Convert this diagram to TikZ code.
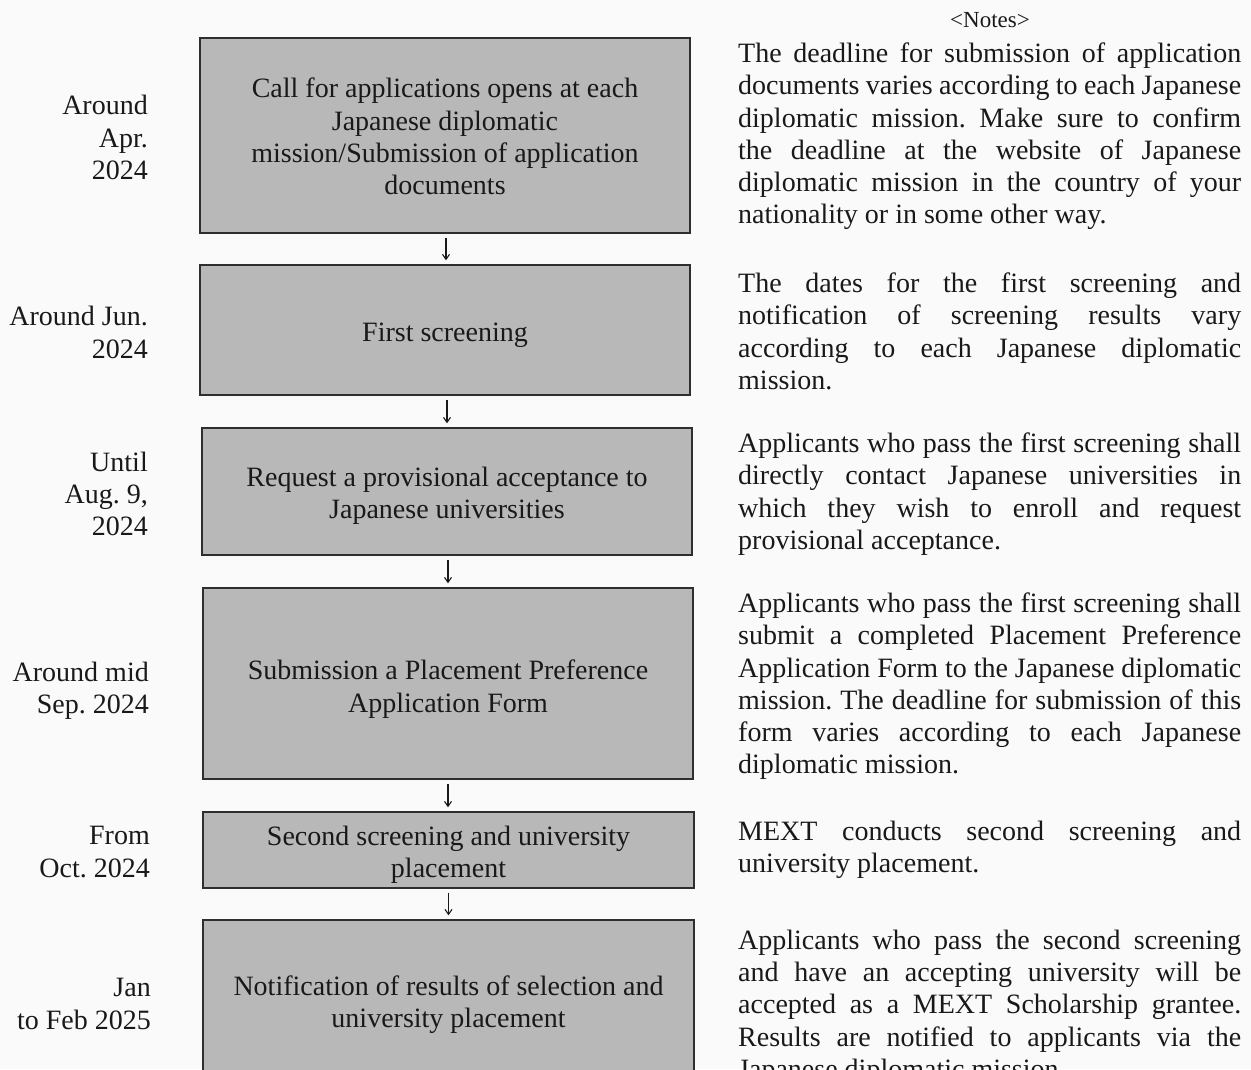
\documentclass[tikz,border=0pt]{standalone}
\usepackage{fontspec}
\setmainfont{Liberation Serif}
\usetikzlibrary{arrows.meta}
\definecolor{boxfill}{RGB}{184,184,184}
\definecolor{boxline}{RGB}{45,45,50}
\definecolor{paper}{RGB}{250,250,250}
\definecolor{ink}{RGB}{25,25,25}
\newcommand\bodyfont{\fontsize{28}{32.3}\selectfont\frenchspacing}
\newcommand\jline[1]{\makebox[503pt][s]{#1}}
\tikzset{
  stepbox/.style={draw=boxline, line width=1.4pt, fill=boxfill, inner sep=0pt,
    minimum width=490pt},
  boxtext/.style={align=center, inner sep=0pt, text=ink, font=\bodyfont},
  datelabel/.style={anchor=east, align=right, inner sep=0pt, text=ink, font=\bodyfont},
  notetext/.style={anchor=north west, align=left, inner sep=0pt, text=ink, font=\bodyfont},
  flowarrow/.style={draw=ink, line width=1.1pt, -{Straight Barb[length=5pt,width=7pt]},
    shorten <=4pt, shorten >=4pt}
}
\begin{document}
\begin{tikzpicture}[x=1pt,y=-1pt]
\useasboundingbox (0,0) rectangle (1251,1069);
\clip (0,0) rectangle (1251,1069);
\fill[paper] (0,0) rectangle (1251,1069);

% boxes
\node[stepbox, minimum height=195pt] (b1) at (445,135.5) {};
\node[stepbox, minimum height=130pt] (b2) at (445,330) {};
\node[stepbox, minimum height=127pt] (b3) at (447,491.5) {};
\node[stepbox, minimum height=191pt] (b4) at (448,683.5) {};
\node[stepbox, minimum height=76pt, minimum width=491pt] (b5) at (448.5,850) {};
\node[stepbox, minimum height=164pt, minimum width=491pt] (b6) at (448.5,1002) {};

% box texts
\node[boxtext] (t1) at ([yshift=-1pt]b1.center)
  {Call for applications opens at each\\Japanese diplomatic\\mission/Submission of application\\documents};
\node[boxtext] (t2) at ([yshift=-5pt]b2.center) {First screening};
\node[boxtext] (t3) at ([yshift=-4pt]b3.center)
  {Request a provisional acceptance to\\Japanese universities};
\node[boxtext] (t4) at ([yshift=-5.5pt]b4.center)
  {Submission a Placement Preference\\Application Form};
\node[boxtext] (t5) at ([yshift=-5pt]b5.center)
  {Second screening and university\\placement};
\node[boxtext] (t6) at ([yshift=-2.5pt]b6.center)
  {Notification of results of selection and\\university placement};

% arrows
\draw[flowarrow] (b1.south) ++(1,0) coordinate (a1) -- (a1 |- b2.north);
\draw[flowarrow] (b2.south) ++(2,0) coordinate (a2) -- (a2 |- b3.north);
\draw[flowarrow] (b3.south) ++(1,0) coordinate (a3) -- (a3 |- b4.north);
\draw[flowarrow] (b4.south) ++(0,0) coordinate (a4) -- (a4 |- b5.north);
\draw[flowarrow] (b5.south) ++(0,0) coordinate (a5) -- (a5 |- b6.north);

% date labels
\node[datelabel] (d1) at (148,137.5) {Around\\Apr.\\2024};
\node[datelabel] (d2) at (148,332.5) {Around Jun.\\2024};
\node[datelabel] (d3) at (148,494) {Until\\Aug. 9,\\2024};
\node[datelabel] (d4) at (149,691) {Around mid\\Sep. 2024};
\node[datelabel] (d5) at (150,852) {From\\Oct. 2024};
\node[datelabel] (d6) at (151,1004) {Jan\\to Feb 2025};

% notes
\node[text=ink, inner sep=0pt, font=\fontsize{23}{26}\selectfont] (nh) at (990,20) {\textless Notes\textgreater};
\node[notetext] (n1) at (738,42.5) {\jline{The deadline for submission of application}\\
  \jline{documents varies according to each Japanese}\\
  \jline{diplomatic mission. Make sure to confirm}\\
  \jline{the deadline at the website of Japanese}\\
  \jline{diplomatic mission in the country of your}\\
  nationality or in some other way.};
\node[notetext] (n2) at (738,272.5) {\jline{The dates for the first screening and}\\
  \jline{notification of screening results vary}\\
  \jline{according to each Japanese diplomatic}\\
  mission.};
\node[notetext] (n3) at (738,432.5) {\jline{Applicants who pass the first screening shall}\\
  \jline{directly contact Japanese universities in}\\
  \jline{which they wish to enroll and request}\\
  provisional acceptance.};
\node[notetext] (n4) at (738,592.5) {\jline{Applicants who pass the first screening shall}\\
  \jline{submit a completed Placement Preference}\\
  \jline{Application Form to the Japanese diplomatic}\\
  \jline{mission. The deadline for submission of this}\\
  \jline{form varies according to each Japanese}\\
  diplomatic mission.};
\node[notetext] (n5) at (738,820.5) {\jline{MEXT conducts second screening and}\\
  university placement.};
\node[notetext] (n6) at (738,929.5) {\jline{Applicants who pass the second screening}\\
  \jline{and have an accepting university will be}\\
  \jline{accepted as a MEXT Scholarship grantee.}\\
  \jline{Results are notified to applicants via the}\\
  Japanese diplomatic mission.};
\end{tikzpicture}
\end{document}
